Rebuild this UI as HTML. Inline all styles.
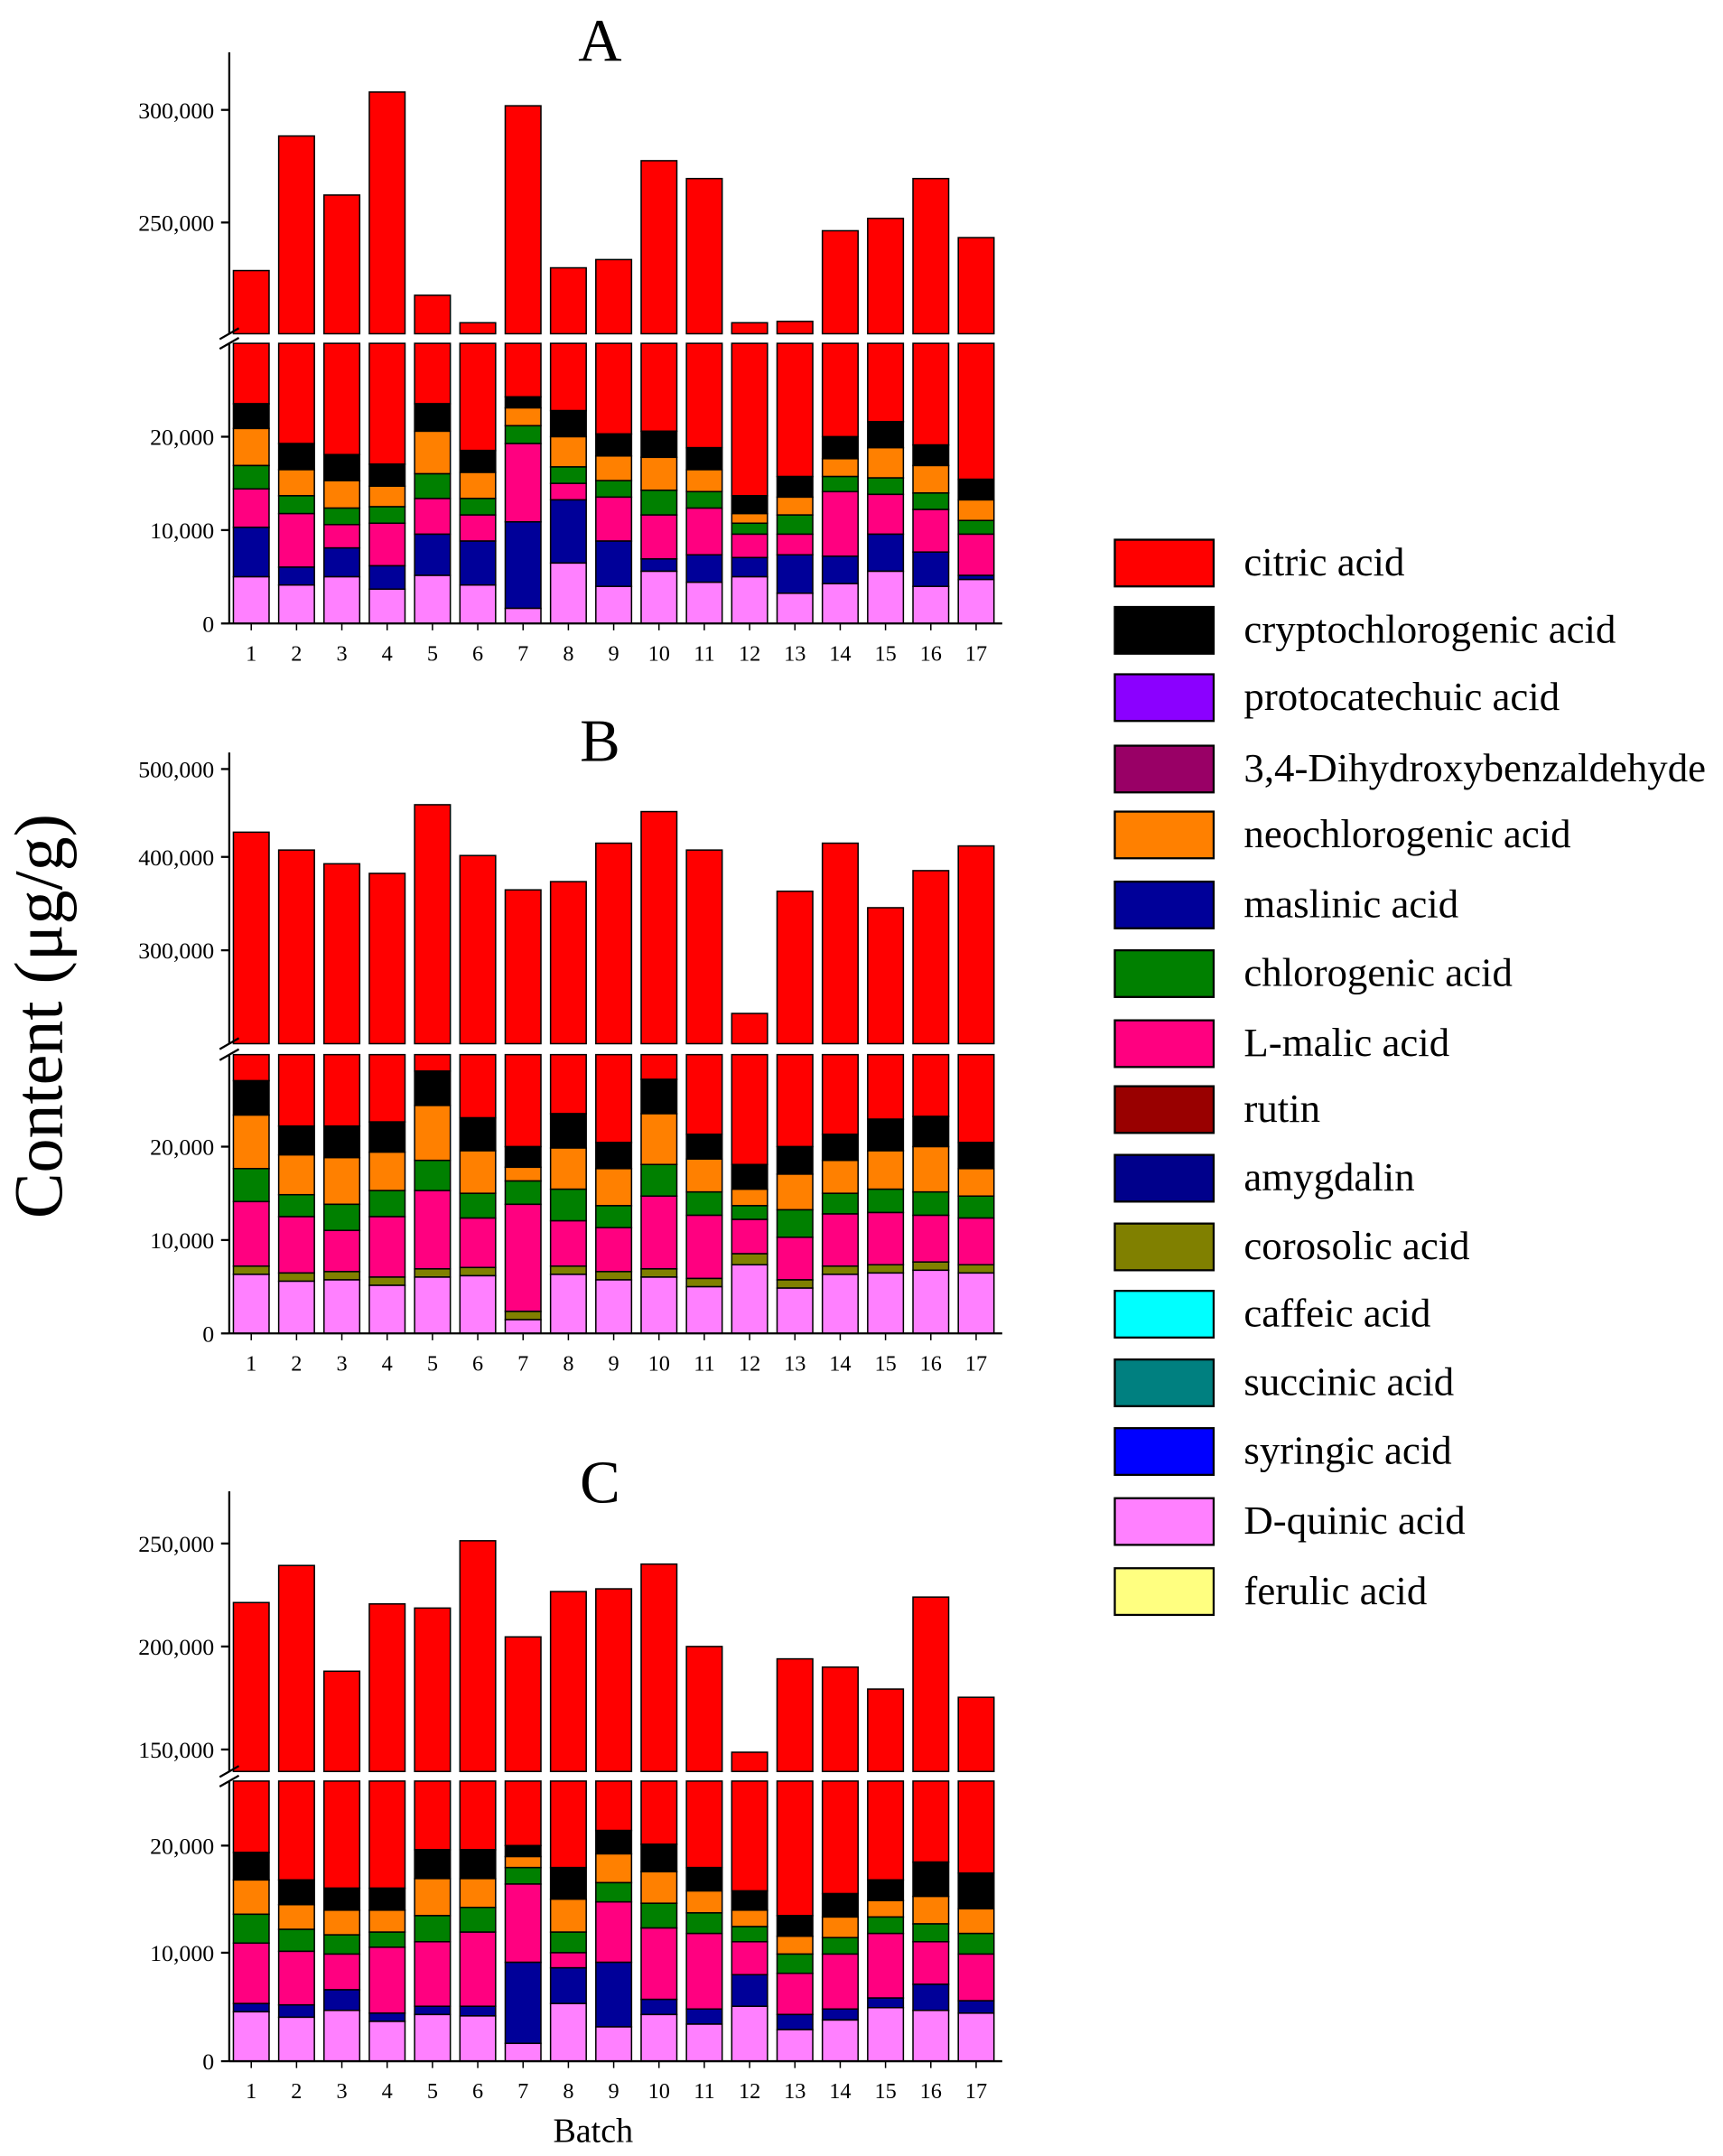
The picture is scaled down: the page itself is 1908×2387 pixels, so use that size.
<!DOCTYPE html>
<html><head><meta charset="utf-8"><style>
html,body{margin:0;padding:0;background:#fff;}
svg{display:block;}
text{font-family:"Liberation Serif",serif;fill:#000;}
</style></head><body>
<svg id="s" width="1908" height="2387" viewBox="0 0 1255 1570" xmlns="http://www.w3.org/2000/svg"></svg>
<script>
const C={cit:"#FF0000",cry:"#000000",pro:"#8B00FF",dhb:"#990066",neo:"#FF8000",mas:"#000099",chl:"#008000",mal:"#FF0080",rut:"#990000",amy:"#00008B",cor:"#808000",caf:"#00FFFF",suc:"#008080",syr:"#0000FF",qui:"#FF80FF",fer:"#FFFF80"};
let out="";
const xs=[183,216,249,282,315,348,381,414,447,480,513,546,579,612,645,678,711];
const bw=26;
function rect(x,y,w,h,f){if(h<=0)return;out+=`<rect x="${x}" y="${y}" width="${w}" height="${h}" fill="${f}" stroke="#000" stroke-width="1"/>`;}
function panel(p){
  p.up.forEach((t,i)=>rect(xs[i]-bw/2,t,bw,p.ub-t,C.cit));
  p.low.forEach((b,i)=>{
    const x=xs[i]-bw/2;
    rect(x,p.lt,bw,b[5]-p.lt,C.cit);
    rect(x,b[5],bw,b[4]-b[5],C.cry);
    rect(x,b[4],bw,b[3]-b[4],C.neo);
    rect(x,b[3],bw,b[2]-b[3],C.chl);
    rect(x,b[2],bw,b[1]-b[2],C.mal);
    rect(x,b[1],bw,b[0]-b[1],p.mid);
    rect(x,b[0],bw,p.z-b[0],C.qui);
  });
  out+=`<line x1="167" y1="${p.top}" x2="167" y2="${p.ub}" stroke="#000" stroke-width="1.5"/>`;
  out+=`<line x1="167" y1="${p.lt}" x2="167" y2="${p.z}" stroke="#000" stroke-width="1.5"/>`;
  out+=`<line x1="167" y1="${p.z}" x2="730" y2="${p.z}" stroke="#000" stroke-width="1.5"/>`;
  out+=`<line x1="160" y1="${p.ub+4}" x2="174" y2="${p.ub-4}" stroke="#000" stroke-width="1.5"/>`;
  out+=`<line x1="160" y1="${p.lt+4}" x2="174" y2="${p.lt-4}" stroke="#000" stroke-width="1.5"/>`;
  p.ticks.forEach(([y,l])=>{out+=`<line x1="161" y1="${y}" x2="167" y2="${y}" stroke="#000" stroke-width="1.5"/><text x="156" y="${y+6}" font-size="17" text-anchor="end">${l}</text>`;});
  xs.forEach((x,i)=>{out+=`<line x1="${x}" y1="${p.z}" x2="${x}" y2="${p.z+5}" stroke="#000"/><text x="${x}" y="${p.z+27}" font-size="16" text-anchor="middle">${i+1}</text>`;});
  out+=`<text x="437" y="${p.ty}" font-size="44" text-anchor="middle">${p.t}</text>`;
}
panel({t:"A",ty:44,top:38,ub:243,lt:250,z:454,mid:C.mas,
 up:[197,99,142,67,215,235,77,195,189,117,130,235,234,168,159,130,173],
 low:[[420,384,356,339,312,294],[426,413,374,361,342,323],[420,399,382,370,350,331],[429,412,381,369,354,338],[419,389,363,345,314,294],[426,394,375,363,344,328],[443,380,323,310,297,289],[410,364,352,340,318,299],[427,394,362,350,332,316],[416,407,375,357,333,314],[424,404,370,358,342,326],[420,406,389,381,374,361],[432,404,389,375,362,347],[425,405,358,347,334,318],[416,389,360,348,326,307],[427,402,371,359,339,324],[422,419,389,379,364,349]],
 ticks:[[80,"300,000"],[162,"250,000"],[318,"20,000"],[386,"10,000"],[454,"0"]]});
panel({t:"B",ty:554,top:548,ub:760,lt:768,z:971,mid:C.cor,
 up:[606,619,629,636,586,623,648,642,614,591,619,738,649,614,661,634,616],
 low:[[928,922,875,851,812,787],[933,927,886,870,841,820],[932,926,896,877,843,820],[936,930,886,867,839,817],[930,924,867,845,805,780],[929,923,887,869,838,814],[961,955,877,860,850,835],[928,922,889,866,836,811],[932,926,894,878,851,832],[930,924,871,848,811,786],[937,931,885,868,844,826],[921,913,888,878,866,848],[938,932,901,881,855,835],[928,922,884,869,845,826],[927,921,883,866,838,815],[925,919,885,868,835,813],[927,921,887,871,851,832]],
 ticks:[[560,"500,000"],[624,"400,000"],[692,"300,000"],[835,"20,000"],[903,"10,000"],[971,"0"]]});
panel({t:"C",ty:1094,top:1086,ub:1290,lt:1297,z:1501,mid:C.mas,
 up:[1167,1140,1217,1168,1171,1122,1192,1159,1157,1139,1199,1276,1208,1214,1230,1163,1236],
 low:[[1465,1459,1415,1394,1369,1349],[1469,1460,1421,1405,1387,1369],[1464,1449,1423,1409,1391,1375],[1472,1466,1418,1407,1391,1375],[1467,1461,1414,1395,1368,1347],[1468,1461,1407,1389,1368,1347],[1488,1429,1372,1360,1352,1344],[1459,1433,1422,1407,1383,1360],[1476,1429,1385,1371,1350,1333],[1467,1456,1404,1386,1363,1343],[1474,1463,1408,1393,1377,1360],[1461,1438,1414,1403,1391,1377],[1478,1467,1437,1423,1410,1395],[1471,1463,1423,1411,1396,1379],[1462,1455,1408,1396,1384,1369],[1464,1445,1414,1401,1381,1356],[1466,1457,1423,1408,1390,1364]],
 ticks:[[1124,"250,000"],[1199,"200,000"],[1274,"150,000"],[1344,"20,000"],[1422,"10,000"],[1501,"0"]]});
out+=`<text x="432" y="1560" font-size="25" text-anchor="middle">Batch</text>`;
out+=`<text transform="translate(45,740) rotate(-90)" font-size="50" text-anchor="middle">Content (μg/g)</text>`;
const leg=[["citric acid",C.cit],["cryptochlorogenic acid",C.cry],["protocatechuic acid",C.pro],["3,4-Dihydroxybenzaldehyde",C.dhb],["neochlorogenic acid",C.neo],["maslinic acid",C.mas],["chlorogenic acid",C.chl],["L-malic acid",C.mal],["rutin",C.rut],["amygdalin",C.amy],["corosolic acid",C.cor],["caffeic acid",C.caf],["succinic acid",C.suc],["syringic acid",C.syr],["D-quinic acid",C.qui],["ferulic acid",C.fer]];
const ly=[410,459,508,560,608,659,709,760,808,858,908,957,1007,1057,1108,1159];
leg.forEach(([n,c],i)=>{out+=`<rect x="812" y="${ly[i]-17}" width="72" height="34" fill="${c}" stroke="#000" stroke-width="1.5"/><text x="906" y="${ly[i]+9}" font-size="29.5">${n}</text>`;});
document.getElementById("s").innerHTML=out;
</script>
</body></html>
